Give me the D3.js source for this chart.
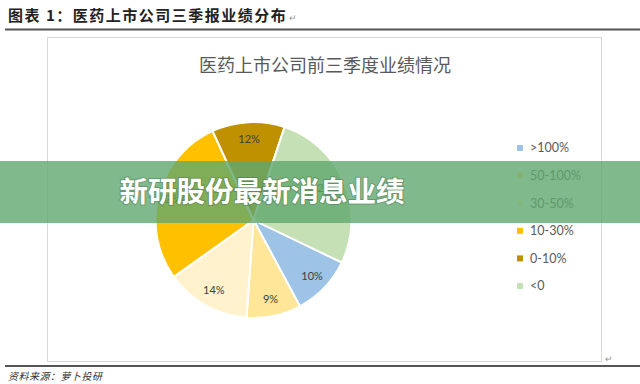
<!DOCTYPE html>
<html>
<head>
<meta charset="utf-8">
<script src="https://cdn.jsdelivr.net/npm/d3@7"></script>
<style>
  html, body { margin: 0; padding: 0; background: #fff; }
  svg { display: block; }
</style>
</head>
<body>
<svg id="chart" width="640" height="384"></svg>
<script>
// slice data, clockwise starting with the blue slice
const categories = ['>100%', '50-100%', '30-50%', '10-30%', '0-10%', '<0'];
const shares = [10, 9, 14, 28, 12, 27];
const colors = ['#9dc3e6', '#ffe699', '#fff2cc', '#ffc000', '#bf9000', '#c5e0b4'];

const svg = d3.select('#chart');
const fontCN = '"Noto Sans CJK SC", "Noto Sans", sans-serif';

// header
svg.append('text')
    .attr('x', 8).attr('y', 21)
    .style('font-family', fontCN).style('font-size', '15px').style('font-weight', 'bold')
    .style('letter-spacing', '1.5px')
    .attr('fill', '#222')
    .text('图表 1：医药上市公司三季报业绩分布');
svg.append('text')
    .attr('x', 289).attr('y', 21)
    .style('font-size', '9px').attr('fill', '#999').text('↵');
svg.append('line')
    .attr('x1', 5).attr('x2', 640).attr('y1', 29.5).attr('y2', 29.5)
    .attr('stroke', '#555').attr('stroke-width', 2);

// chart frame
svg.append('rect')
    .attr('x', 47.5).attr('y', 37.5).attr('width', 554).attr('height', 324)
    .attr('fill', '#fff').attr('stroke', '#d9d9d9');

svg.append('text')
    .attr('x', 325).attr('y', 72).attr('text-anchor', 'middle')
    .style('font-family', fontCN).style('font-size', '18px')
    .attr('fill', '#595959')
    .text('医药上市公司前三季度业绩情况');

// pie
const cx = 253.5, cy = 220, radius = 98;
const start = 115.7 * Math.PI / 180;
const pie = d3.pie().sort(null).startAngle(start).endAngle(start + 2 * Math.PI);
const arcs = pie(shares);
const arc = d3.arc().innerRadius(0).outerRadius(radius);
const labelArc = d3.arc().innerRadius(81).outerRadius(81);

const g = svg.append('g').attr('transform', `translate(${cx},${cy})`);
g.selectAll('path.slice')
    .data(arcs).enter()
    .append('path')
    .attr('class', 'slice')
    .attr('d', arc)
    .attr('fill', (d, i) => colors[i])
    .attr('stroke', '#fff').attr('stroke-width', 2);

g.selectAll('text.pct')
    .data(arcs).enter()
    .append('text')
    .attr('class', 'pct')
    .attr('transform', d => `translate(${labelArc.centroid(d)})`)
    .attr('text-anchor', 'middle').attr('dy', '0.35em')
    .style('font-family', 'Lato, "Open Sans", sans-serif').style('font-size', '11px')
    .attr('fill', '#404040')
    .text(d => d.data + '%');

// legend
const legendY = d3.scalePoint().domain(categories).range([148, 286]);
const legend = svg.selectAll('g.legend')
    .data(categories).enter()
    .append('g')
    .attr('class', 'legend')
    .attr('transform', d => `translate(517,${legendY(d)})`);
legend.append('rect')
    .attr('x', 0).attr('y', -3).attr('width', 6).attr('height', 6)
    .attr('fill', (d, i) => colors[i]);
legend.append('text')
    .attr('x', 13).attr('dy', '0.35em')
    .style('font-family', 'Lato, "Open Sans", sans-serif').style('font-size', '12.5px')
    .attr('fill', '#595959')
    .text(d => d);

// footer
svg.append('text')
    .attr('x', 605).attr('y', 362)
    .style('font-size', '9px').attr('fill', '#999').text('↵');
svg.append('line')
    .attr('x1', 5).attr('x2', 640).attr('y1', 366).attr('y2', 366)
    .attr('stroke', '#555').attr('stroke-width', 2);
svg.append('text')
    .attr('x', 8).attr('y', 380)
    .style('font-family', fontCN).style('font-size', '10px').style('font-style', 'italic')
    .style('letter-spacing', '0.5px')
    .attr('fill', '#333')
    .text('资料来源：萝卜投研');

// banner overlay
svg.append('rect')
    .attr('x', 0).attr('y', 161).attr('width', 640).attr('height', 62)
    .attr('fill', 'rgb(96,168,110)').attr('fill-opacity', 0.8);
svg.append('text')
    .attr('x', 262).attr('y', 192).attr('text-anchor', 'middle').attr('dy', '0.36em')
    .style('font-family', fontCN).style('font-size', '28.5px').style('font-weight', 'bold')
    .attr('fill', '#fff')
    .style('paint-order', 'stroke').attr('stroke', 'rgba(60,90,60,0.35)').attr('stroke-width', 2)
    .text('新研股份最新消息业绩');
</script>
</body>
</html>
